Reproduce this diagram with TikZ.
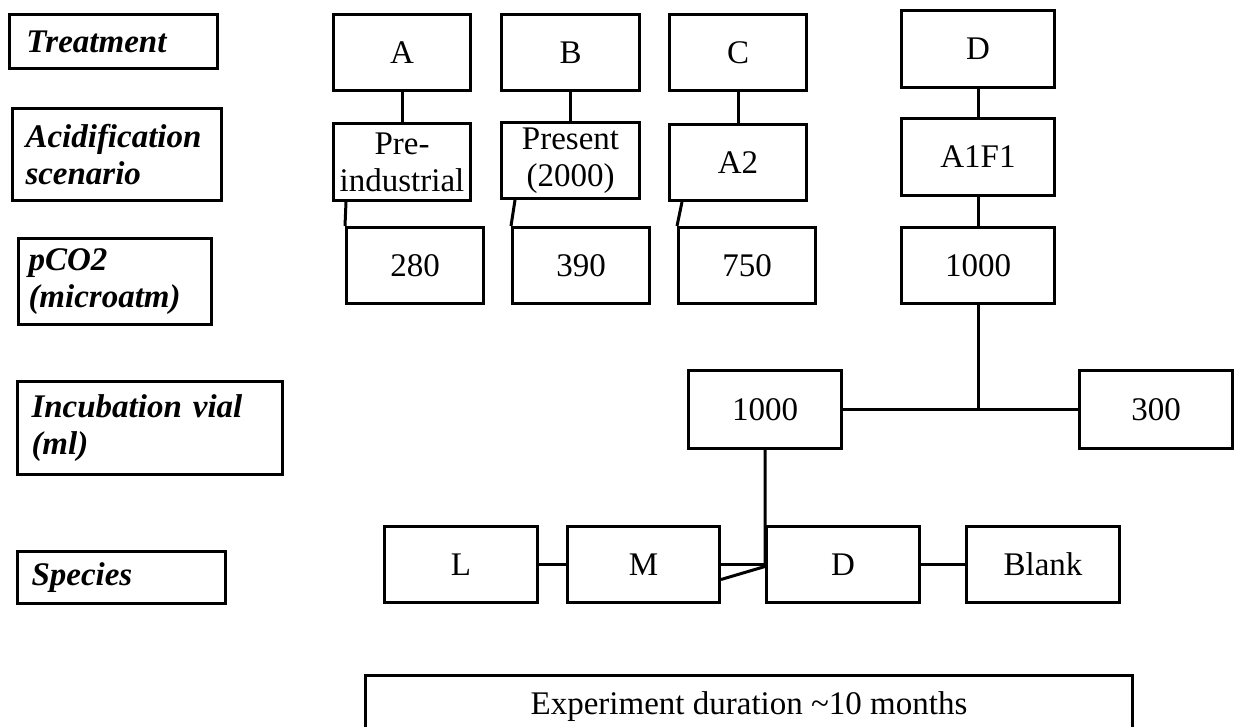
\documentclass[tikz,border=0pt]{standalone}
\usepackage{fontspec}
\setmainfont{Liberation Serif}
\usetikzlibrary{calc}
\begin{document}
\begin{tikzpicture}[x=1pt,y=-1pt,
  every node/.style={font=\fontsize{33}{37}\selectfont},
  box/.style={draw, line width=3pt, anchor=north west, inner sep=0pt, align=center},
  lbl/.style={draw, line width=3pt, anchor=north west, inner ysep=0pt, align=left,
    font=\fontsize{33}{37}\selectfont\bfseries\itshape},
  conn/.style={line width=3pt}]
\useasboundingbox (0,0) rectangle (1235,726);
\clip (0,0) rectangle (1235,726);

% row labels
\node[lbl, inner xsep=17pt, text width=174pt, minimum height=54pt] (lT) at (8,13) {Treatment};
\node[lbl, inner xsep=13pt, text width=183pt, minimum height=92pt] (lA) at (11,107) {Acidification\\scenario};
\node[lbl, inner xsep=10pt, text width=173pt, minimum height=86pt] (lP) at (17,237) {pCO2\\(microatm)};
\node[lbl, inner xsep=14pt, text width=237pt, minimum height=93pt] (lI) at (16,380) {Incubation vial\\(ml)};
\node[lbl, inner xsep=14pt, text width=180pt, minimum height=52pt] (lS) at (16,550) {Species};

% treatments
\node[box, minimum width=137pt, minimum height=76pt] (tA) at (332,13) {A};
\node[box, minimum width=138pt, minimum height=76pt] (tB) at (500,13) {B};
\node[box, minimum width=137pt, minimum height=76pt] (tC) at (668,13) {C};
\node[box, minimum width=153pt, minimum height=77pt] (tD) at (900,9) {D};

% scenarios
\node[box, minimum width=137pt, minimum height=77pt] (sA) at (332,122) {Pre-\\industrial};
\node[box, minimum width=138pt, minimum height=76pt] (sB) at (500,121) {Present\\(2000)};
\node[box, minimum width=137pt, minimum height=76pt] (sC) at (668,123) {A2};
\node[box, minimum width=153pt, minimum height=77pt] (sD) at (900,117) {A1F1};

% pCO2
\node[box, minimum width=137pt, minimum height=76pt] (pA) at (345,226) {280};
\node[box, minimum width=137pt, minimum height=76pt] (pB) at (511,226) {390};
\node[box, minimum width=137pt, minimum height=76pt] (pC) at (677,226) {750};
\node[box, minimum width=153pt, minimum height=76pt] (pD) at (900,226) {1000};

% incubation vials
\node[box, minimum width=153pt, minimum height=78pt] (i1) at (687,369) {1000};
\node[box, minimum width=153pt, minimum height=78pt] (i2) at (1078,369) {300};

% species
\node[box, minimum width=153pt, minimum height=76pt] (spL) at (383,525) {L};
\node[box, minimum width=152pt, minimum height=76pt] (spM) at (566,525) {M};
\node[box, minimum width=153pt, minimum height=76pt] (spD) at (765,525) {D};
\node[box, minimum width=153pt, minimum height=76pt] (spB) at (965,525) {Blank};

% duration
\node[box, minimum width=767pt, text height=39pt, text depth=47pt] (exp) at (364,674) {Experiment duration \textasciitilde 10 months};

% connectors
\draw[conn] (tA) -- (sA);
\draw[conn] (tB) -- (sB);
\draw[conn] (tC) -- (sC);
\draw[conn] (tD) -- (sD);
\draw[conn] (sD) -- (pD);
\draw[conn] ($(sA.south west)+(14,0)$) -- (pA.north west);
\draw[conn] ($(sB.south west)+(15,0)$) -- (pB.north west);
\draw[conn] ($(sC.south west)+(14,0)$) -- (pC.north west);
\draw[conn] (pD.south) -- (pD.south |- i1.east) coordinate (j1);
\draw[conn] (i1) -- (i2);
\draw[conn] (i1.south) -- ($(i1.south |- spD.west)+(0,2)$) coordinate (j2) -- ($(spM.east)+(0,15)$);
\draw[conn] (spL) -- (spM);
\draw[conn] (spM) -- (spD);
\draw[conn] (spD) -- (spB);
\end{tikzpicture}
\end{document}
